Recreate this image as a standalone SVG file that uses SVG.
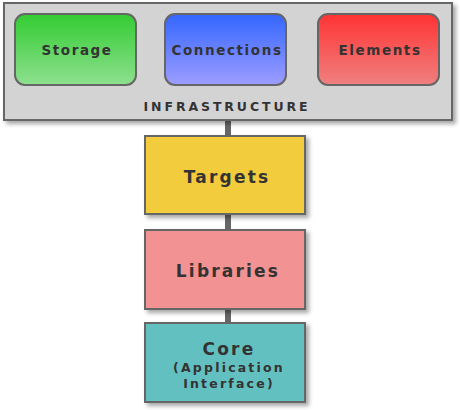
<svg xmlns="http://www.w3.org/2000/svg" width="460" height="410" viewBox="0 0 460 410">
<defs>
<linearGradient id="gGreen" x1="0" y1="0" x2="0" y2="1"><stop offset="0" stop-color="#33cc33"/><stop offset="1" stop-color="#8ee08e"/></linearGradient>
<linearGradient id="gBlue" x1="0" y1="0" x2="0" y2="1"><stop offset="0" stop-color="#3366ff"/><stop offset="1" stop-color="#9d9dff"/></linearGradient>
<linearGradient id="gRed" x1="0" y1="0" x2="0" y2="1"><stop offset="0" stop-color="#ff3333"/><stop offset="1" stop-color="#f08080"/></linearGradient>
<filter id="shadow" x="-10%" y="-10%" width="130%" height="130%"><feDropShadow dx="3" dy="3" stdDeviation="2" flood-color="#000" flood-opacity="0.35"/></filter>
</defs>
<style>
.box{stroke:#666;stroke-width:2}
.t{font-family:"DejaVu Sans",Verdana,sans-serif;font-weight:bold;fill:#333;text-anchor:middle}
.s{font-size:13.5px;letter-spacing:1.6px}
.b{font-size:17px;letter-spacing:2.2px}
.m{font-size:12.5px;letter-spacing:2.2px}
.i{font-size:12.5px;letter-spacing:2.9px}
</style>
<g id="connectors">
<line x1="228" y1="120" x2="228" y2="323" stroke="#666" stroke-width="6"/>
</g>
<g id="infrastructure">
<rect class="box" x="4" y="3" width="448" height="117" fill="#d3d3d3" filter="url(#shadow)"/>
<text class="t i" x="227" y="111">INFRASTRUCTURE</text>
</g>
<g id="storage">
<rect class="box" x="15" y="14" width="121" height="71" rx="10" fill="url(#gGreen)"/>
<text class="t s" x="77" y="55">Storage</text>
</g>
<g id="connections">
<rect class="box" x="165" y="14" width="121" height="71" rx="10" fill="url(#gBlue)"/>
<text class="t s" x="227" y="55">Connections</text>
</g>
<g id="elements">
<rect class="box" x="318" y="14" width="121" height="71" rx="10" fill="url(#gRed)"/>
<text class="t s" x="380" y="55">Elements</text>
</g>
<g id="targets">
<rect class="box" x="145" y="136" width="160" height="78" fill="#f2cc3d" filter="url(#shadow)"/>
<text class="t b" x="227" y="183">Targets</text>
</g>
<g id="libraries">
<rect class="box" x="145" y="230" width="160" height="79" fill="#f29292" filter="url(#shadow)"/>
<text class="t b" x="228" y="277">Libraries</text>
</g>
<g id="core">
<rect class="box" x="145" y="323" width="160" height="79" fill="#63c0c0" filter="url(#shadow)"/>
<text class="t b" x="229" y="355">Core</text>
<text class="t m" x="229" y="372">(Application</text>
<text class="t m" x="229" y="388">Interface)</text>
</g>
</svg>
